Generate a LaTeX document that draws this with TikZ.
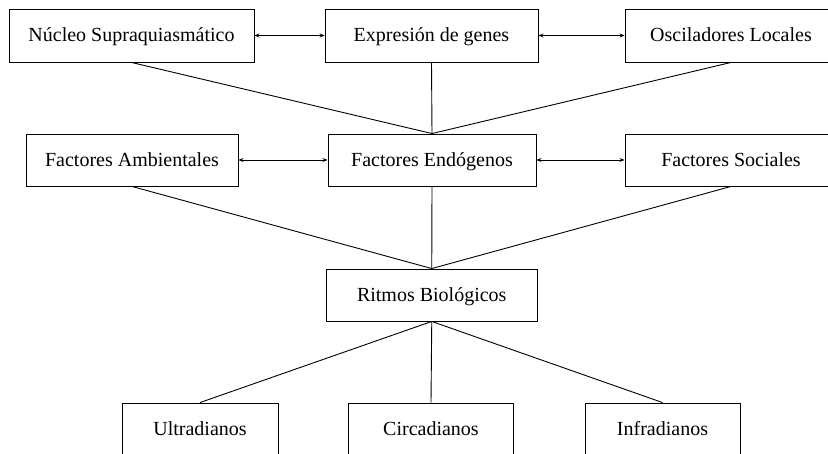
\documentclass[tikz,border=0pt]{standalone}
\usepackage{fontspec}
\setmainfont{Liberation Serif}
\usetikzlibrary{arrows.meta}
\begin{document}
\begin{tikzpicture}[x=1pt,y=-1pt,
  box/.style={draw,line width=0.9pt,rectangle,inner sep=0pt,text height=14pt,text depth=1pt,font=\fontsize{20}{22}\selectfont},
  link/.style={line width=0.9pt},
  dbl/.style={line width=0.9pt,{Stealth[length=5pt,width=4pt]}-{Stealth[length=5pt,width=4pt]}}]
\useasboundingbox (0,0) rectangle (828,454);
\clip (0,0) rectangle (828,454);
\node[box,minimum width=245pt,minimum height=53pt] (n1) at (131.5,35.5) {Núcleo Supraquiasmático};
\node[box,minimum width=213pt,minimum height=53pt] (n2) at (431.5,35.5) {Expresión de genes};
\node[box,minimum width=212pt,minimum height=53pt] (n3) at (731,35.5) {Osciladores Locales};
\node[box,minimum width=212pt,minimum height=52pt] (f1) at (132,160) {Factores Ambientales};
\node[box,minimum width=208pt,minimum height=52pt] (f2) at (432,160) {Factores Endógenos};
\node[box,minimum width=212pt,minimum height=52pt] (f3) at (731,160) {Factores Sociales};
\node[box,minimum width=211pt,minimum height=52pt] (r) at (431.75,295) {Ritmos Biológicos};
\node[box,minimum width=156pt,minimum height=52pt] (u) at (200,429) {Ultradianos};
\node[box,minimum width=165pt,minimum height=52pt] (c) at (431,429) {Circadianos};
\node[box,minimum width=155pt,minimum height=52pt] (i) at (662.5,429) {Infradianos};
\draw[dbl] (n1) -- (n2);
\draw[dbl] (n2) -- (n3);
\draw[dbl] (f1) -- (f2);
\draw[dbl] (f2) -- (f3);
\draw[link] (n1.south) -- (f2.north);
\draw[link] (n2.south) -- (f2.north);
\draw[link] (n3.south) -- (f2.north);
\draw[link] (f1.south) -- (r.north);
\draw[link] (f2.south) -- (r.north);
\draw[link] (f3.south) -- (r.north);
\draw[link] (r.south) -- (u.north);
\draw[link] (r.south) -- (c.north);
\draw[link] (r.south) -- (i.north);
\end{tikzpicture}
\end{document}
